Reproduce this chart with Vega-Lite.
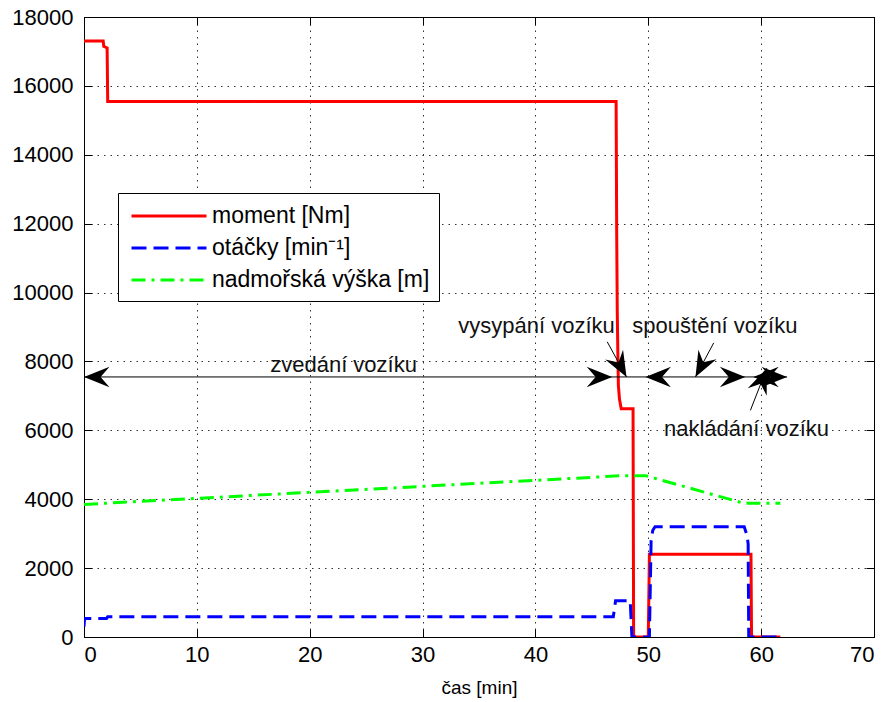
{
  "$schema": "https://vega.github.io/schema/vega-lite/v6.json",
  "width": 790,
  "height": 620,
  "autosize": {"type": "none"},
  "padding": {"left": 84, "top": 17, "right": 14, "bottom": 65},
  "background": "white",
  "config": {
    "view": {"stroke": "black", "strokeWidth": 1},
    "font": "Liberation Sans",
    "axis": {
      "domainColor": "black",
      "domainWidth": 1,
      "tickColor": "black",
      "tickWidth": 1,
      "tickSize": -8,
      "labelFont": "Liberation Sans",
      "labelFontSize": 22,
      "labelColor": "black",
      "gridColor": "#333333",
      "gridDash": [1.5, 5],
      "gridWidth": 1,
      "gridOpacity": 1,
      "titleFont": "Liberation Sans",
      "titleFontSize": 19,
      "titleFontWeight": "normal",
      "titleColor": "black"
    },
    "legend": {
      "fillColor": "white",
      "strokeColor": "black",
      "padding": 9,
      "labelFont": "Liberation Sans",
      "labelFontSize": 23,
      "labelColor": "black",
      "labelLimit": 400,
      "symbolType": "M-3,0L3,0",
      "symbolSize": 625,
      "symbolStrokeWidth": 3,
      "symbolOffset": 28,
      "labelOffset": 29,
      "rowPadding": 6
    }
  },
  "datasets": {
    "series": [
      {"t": 0, "v": 17300, "s": "moment [Nm]"},
      {"t": 1.7, "v": 17300, "s": "moment [Nm]"},
      {"t": 1.75, "v": 17150, "s": "moment [Nm]"},
      {"t": 2.05, "v": 17100, "s": "moment [Nm]"},
      {"t": 2.1, "v": 15550, "s": "moment [Nm]"},
      {"t": 47.15, "v": 15550, "s": "moment [Nm]"},
      {"t": 47.2, "v": 11800, "s": "moment [Nm]"},
      {"t": 47.25, "v": 9500, "s": "moment [Nm]"},
      {"t": 47.3, "v": 8300, "s": "moment [Nm]"},
      {"t": 47.35, "v": 7300, "s": "moment [Nm]"},
      {"t": 47.45, "v": 6900, "s": "moment [Nm]"},
      {"t": 47.6, "v": 6630, "s": "moment [Nm]"},
      {"t": 48.65, "v": 6630, "s": "moment [Nm]"},
      {"t": 48.7, "v": 0, "s": "moment [Nm]"},
      {"t": 50.0, "v": 0, "s": "moment [Nm]"},
      {"t": 50.1, "v": 2400, "s": "moment [Nm]"},
      {"t": 59.1, "v": 2400, "s": "moment [Nm]"},
      {"t": 59.15, "v": 0, "s": "moment [Nm]"},
      {"t": 61.7, "v": 0, "s": "moment [Nm]"},
      {"t": 0, "v": 300, "s": "otáčky [min⁻¹]"},
      {"t": 0.05, "v": 540, "s": "otáčky [min⁻¹]"},
      {"t": 2.0, "v": 540, "s": "otáčky [min⁻¹]"},
      {"t": 2.1, "v": 590, "s": "otáčky [min⁻¹]"},
      {"t": 46.9, "v": 590, "s": "otáčky [min⁻¹]"},
      {"t": 47.1, "v": 1050, "s": "otáčky [min⁻¹]"},
      {"t": 48.4, "v": 1050, "s": "otáčky [min⁻¹]"},
      {"t": 48.55, "v": 0, "s": "otáčky [min⁻¹]"},
      {"t": 50.1, "v": 0, "s": "otáčky [min⁻¹]"},
      {"t": 50.25, "v": 2800, "s": "otáčky [min⁻¹]"},
      {"t": 50.4, "v": 3100, "s": "otáčky [min⁻¹]"},
      {"t": 50.6, "v": 3200, "s": "otáčky [min⁻¹]"},
      {"t": 58.5, "v": 3200, "s": "otáčky [min⁻¹]"},
      {"t": 58.75, "v": 2950, "s": "otáčky [min⁻¹]"},
      {"t": 58.85, "v": 2700, "s": "otáčky [min⁻¹]"},
      {"t": 58.9, "v": 0, "s": "otáčky [min⁻¹]"},
      {"t": 61.7, "v": 0, "s": "otáčky [min⁻¹]"},
      {"t": 0, "v": 3850, "s": "nadmořská výška [m]"},
      {"t": 47.5, "v": 4680, "s": "nadmořská výška [m]"},
      {"t": 49.8, "v": 4680, "s": "nadmořská výška [m]"},
      {"t": 58.5, "v": 3880, "s": "nadmořská výška [m]"},
      {"t": 61.7, "v": 3880, "s": "nadmořská výška [m]"}
    ],
    "span": [{"x0": 0, "x1": 62.3, "y": 7550}],
    "pointers": [
      {"x": 46.36, "y": 8570, "x2": 48.07, "y2": 7550},
      {"x": 55.8, "y": 8540, "x2": 54.18, "y2": 7550},
      {"x": 59.05, "y": 6580, "x2": 60.5, "y2": 7800}
    ],
    "heads": [
      {"x": 0, "y": 7550, "dir": "left"},
      {"x": 46.8, "y": 7550, "dir": "right"},
      {"x": 49.75, "y": 7550, "dir": "left"},
      {"x": 58.6, "y": 7550, "dir": "right"},
      {"x": 59.3, "y": 7550, "dir": "left"},
      {"x": 62.3, "y": 7550, "dir": "right"},
      {"x": 48.07, "y": 7550, "dir": "vysypani"},
      {"x": 54.18, "y": 7550, "dir": "spousteni"},
      {"x": 60.5, "y": 7800, "dir": "nakladani"}
    ],
    "notes": [
      {"x": 23.0, "y": 7900, "label": "zvedání vozíku"},
      {"x": 40.1, "y": 9030, "label": "vysypání vozíku"},
      {"x": 55.9, "y": 9030, "label": "spouštění vozíku"},
      {"x": 58.7, "y": 6040, "label": "nakládání vozíku"}
    ]
  },
  "layer": [
    {
      "data": {"name": "series"},
      "mark": {"type": "line", "strokeWidth": 3, "clip": true},
      "encoding": {
        "x": {
          "field": "t",
          "type": "quantitative",
          "scale": {"domain": [0, 70], "nice": false, "zero": false},
          "axis": {
            "orient": "bottom",
            "values": [0, 10, 20, 30, 40, 50, 60, 70],
            "title": "čas [min]",
            "grid": true,
            "labelPadding": 15,
            "titlePadding": 13
          }
        },
        "y": {
          "field": "v",
          "type": "quantitative",
          "scale": {"domain": [0, 18000], "nice": false},
          "axis": {
            "orient": "left",
            "values": [0, 2000, 4000, 6000, 8000, 10000, 12000, 14000, 16000, 18000],
            "format": "d",
            "title": null,
            "grid": true,
            "labelPadding": 19
          }
        },
        "color": {
          "field": "s",
          "type": "nominal",
          "scale": {
            "domain": ["moment [Nm]", "otáčky [min⁻¹]", "nadmořská výška [m]"],
            "range": ["#ff0000", "#0000ff", "#00ff00"]
          },
          "legend": {"title": null, "orient": "none", "legendX": 34, "legendY": 176}
        },
        "strokeDash": {
          "field": "s",
          "type": "nominal",
          "scale": {
            "domain": ["moment [Nm]", "otáčky [min⁻¹]", "nadmořská výška [m]"],
            "range": [[1, 0], [15, 7], [14, 6, 3, 6]]
          },
          "legend": {"title": null, "orient": "none", "legendX": 34, "legendY": 176}
        }
      }
    },
    {
      "data": {"name": "span"},
      "mark": {"type": "rule", "color": "black", "strokeWidth": 1},
      "encoding": {
        "x": {
          "field": "x0",
          "type": "quantitative",
          "axis": {
            "orient": "top",
            "values": [0, 10, 20, 30, 40, 50, 60, 70],
            "labels": false,
            "grid": false,
            "title": null
          }
        },
        "x2": {"field": "x1"},
        "y": {
          "field": "y",
          "type": "quantitative",
          "axis": {
            "orient": "right",
            "values": [0, 2000, 4000, 6000, 8000, 10000, 12000, 14000, 16000, 18000],
            "labels": false,
            "grid": false,
            "title": null
          }
        }
      }
    },
    {
      "data": {"name": "pointers"},
      "mark": {"type": "rule", "color": "black", "strokeWidth": 1},
      "encoding": {
        "x": {"field": "x", "type": "quantitative", "axis": null},
        "y": {"field": "y", "type": "quantitative", "axis": null},
        "x2": {"field": "x2"},
        "y2": {"field": "y2"}
      }
    },
    {
      "data": {"name": "heads"},
      "transform": [{"filter": "datum.dir === 'right'"}],
      "mark": {"type": "point", "shape": "M0,0L-2,-0.8L-1.3,0L-2,0.8Z", "filled": true, "color": "black", "opacity": 1, "size": 650, "angle": 0},
      "encoding": {
        "x": {"field": "x", "type": "quantitative", "axis": null},
        "y": {"field": "y", "type": "quantitative", "axis": null}
      }
    },
    {
      "data": {"name": "heads"},
      "transform": [{"filter": "datum.dir === 'left'"}],
      "mark": {"type": "point", "shape": "M0,0L-2,-0.8L-1.3,0L-2,0.8Z", "filled": true, "color": "black", "opacity": 1, "size": 650, "angle": 180},
      "encoding": {
        "x": {"field": "x", "type": "quantitative", "axis": null},
        "y": {"field": "y", "type": "quantitative", "axis": null}
      }
    },
    {
      "data": {"name": "heads"},
      "transform": [{"filter": "datum.dir === 'vysypani'"}],
      "mark": {"type": "point", "shape": "M0,0L-2,-0.8L-1.3,0L-2,0.8Z", "filled": true, "color": "black", "opacity": 1, "size": 650, "angle": 61},
      "encoding": {
        "x": {"field": "x", "type": "quantitative", "axis": null},
        "y": {"field": "y", "type": "quantitative", "axis": null}
      }
    },
    {
      "data": {"name": "heads"},
      "transform": [{"filter": "datum.dir === 'spousteni'"}],
      "mark": {"type": "point", "shape": "M0,0L-2,-0.8L-1.3,0L-2,0.8Z", "filled": true, "color": "black", "opacity": 1, "size": 650, "angle": 118},
      "encoding": {
        "x": {"field": "x", "type": "quantitative", "axis": null},
        "y": {"field": "y", "type": "quantitative", "axis": null}
      }
    },
    {
      "data": {"name": "heads"},
      "transform": [{"filter": "datum.dir === 'nakladani'"}],
      "mark": {"type": "point", "shape": "M0,0L-2,-0.8L-1.3,0L-2,0.8Z", "filled": true, "color": "black", "opacity": 1, "size": 650, "angle": 292},
      "encoding": {
        "x": {"field": "x", "type": "quantitative", "axis": null},
        "y": {"field": "y", "type": "quantitative", "axis": null}
      }
    },
    {
      "data": {"name": "notes"},
      "mark": {"type": "text", "font": "Liberation Sans", "fontSize": 22, "color": "#111111", "align": "center", "baseline": "middle"},
      "encoding": {
        "x": {"field": "x", "type": "quantitative", "axis": null},
        "y": {"field": "y", "type": "quantitative", "axis": null},
        "text": {"field": "label"}
      }
    }
  ],
  "resolve": {"axis": {"x": "independent", "y": "independent"}}
}
